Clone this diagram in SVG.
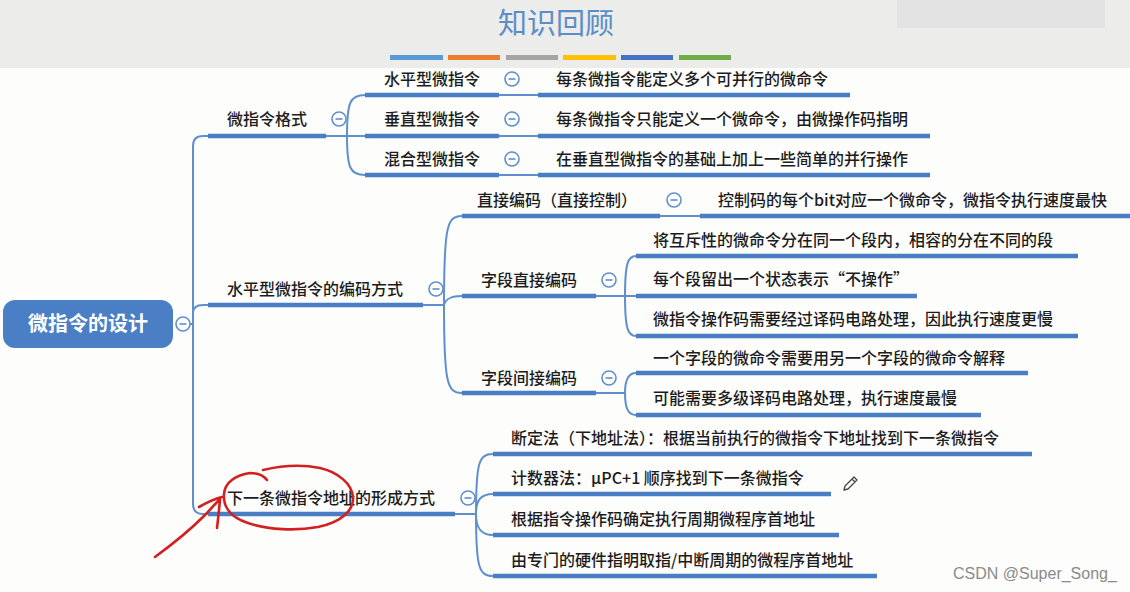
<svg xmlns="http://www.w3.org/2000/svg" width="1130" height="592" viewBox="0 0 1130 592">
<style>
.t{font-family:"Noto Sans CJK SC","Noto Sans",sans-serif;font-size:16px;font-weight:500;fill:#1c1c1c}
.m{text-anchor:middle}
.ul{stroke:#4a7ec4;stroke-width:4.5;fill:none;stroke-linecap:butt}
.cn{stroke:#5f8fce;stroke-width:2;fill:none}
.cb circle{fill:#fff;stroke:#5f8fce;stroke-width:1.6}
.cb line{stroke:#5f8fce;stroke-width:1.6}
.red{stroke:#d41f1f;stroke-width:2.6;fill:none;stroke-linecap:round;stroke-linejoin:round}
</style>
<defs>
<g id="minus" class="cb"><circle cx="0" cy="0" r="7"/><line x1="-3.5" y1="0" x2="3.5" y2="0"/></g>
</defs>
<rect x="0" y="0" width="1130" height="592" fill="#fdfdfc"/>
<g id="header">
<rect x="0" y="0" width="1130" height="68" fill="#ececeb"/>
<rect x="897" y="0" width="208" height="28" fill="#e3e3e3"/>
<text x="556" y="34" text-anchor="middle" style="font-family:'Noto Sans CJK SC',sans-serif;font-size:29px;fill:#5b8ec9">知识回顾</text>
<rect x="390" y="55" width="53" height="5" fill="#5b9bd5"/>
<rect x="448" y="55" width="52" height="5" fill="#ed7d31"/>
<rect x="506" y="55" width="52" height="5" fill="#a5a5a5"/>
<rect x="563" y="55" width="53" height="5" fill="#ffc000"/>
<rect x="621" y="55" width="52" height="5" fill="#4472c4"/>
<rect x="679" y="55" width="52" height="5" fill="#70ad47"/>
</g>
<g id="connectors">
<path class="cn" d="M190,324 H193 M208,136 H203 Q193,136 193,146 V504 Q193,514 203,514 H208 M193,313 Q193,305 203,305 H208"/>
<path class="cn" d="M326,136 H347 M347,136 C347,102 350,95 365,95 M347,136 H365 M347,136 C347,168 350,175 365,175"/>
<path class="cn" d="M499,95 H538 M499,136 H538 M499,175 H538"/>
<path class="cn" d="M423,305 H444 M444,305 C444,226 447,216 462,216 M444,305 C446,298 452,296 462,296 M444,305 C444,383 447,393 462,393"/>
<path class="cn" d="M660,216 H700"/>
<path class="cn" d="M596,296 H625 M625,296 C625,263 628,256 636,256 M625,296 H636 M625,296 C625,329 628,336 636,336"/>
<path class="cn" d="M596,393 H625 M625,393 C625,380 628,373 636,373 M625,393 C625,408 628,415 636,415"/>
<path class="cn" d="M455,514 H476 M476,514 C476,462 479,454 493,454 M476,514 C476,501 480,494 493,494 M476,514 C476,527 480,535 493,535 M476,514 C476,568 479,576 493,576"/>
</g>
<g id="root">
<rect x="3" y="300" width="170" height="48" rx="12" fill="#4a7fc6"/>
<text x="88" y="331" text-anchor="middle" style="font-family:'Noto Sans CJK SC',sans-serif;font-size:20px;font-weight:bold;fill:#fff">微指令的设计</text>
<use href="#minus" x="183" y="324"/>
</g>
<g id="n-format">
<line class="ul" x1="208" y1="136" x2="326" y2="136"/>
<text class="t m" x="267" y="125">微指令格式</text>
<use href="#minus" x="339" y="119"/>
</g>
<g id="n-horizontal">
<line class="ul" x1="365" y1="95" x2="499" y2="95"/>
<text class="t m" x="432" y="85">水平型微指令</text>
<use href="#minus" x="512" y="79"/>
</g>
<g id="n-vertical">
<line class="ul" x1="365" y1="136" x2="499" y2="136"/>
<text class="t m" x="432" y="125">垂直型微指令</text>
<use href="#minus" x="512" y="119"/>
</g>
<g id="n-mixed">
<line class="ul" x1="365" y1="175" x2="499" y2="175"/>
<text class="t m" x="432" y="165">混合型微指令</text>
<use href="#minus" x="512" y="159"/>
</g>
<g id="l-horizontal">
<line class="ul" x1="538" y1="95" x2="850" y2="95"/>
<text class="t" x="556" y="85">每条微指令能定义多个可并行的微命令</text>
</g>
<g id="l-vertical">
<line class="ul" x1="538" y1="136" x2="930" y2="136"/>
<text class="t" x="556" y="125">每条微指令只能定义一个微命令，由微操作码指明</text>
</g>
<g id="l-mixed">
<line class="ul" x1="538" y1="175" x2="930" y2="175"/>
<text class="t" x="556" y="165">在垂直型微指令的基础上加上一些简单的并行操作</text>
</g>
<g id="n-encoding">
<line class="ul" x1="208" y1="305" x2="423" y2="305"/>
<text class="t m" x="315" y="295">水平型微指令的编码方式</text>
<use href="#minus" x="436" y="289"/>
</g>
<g id="n-direct">
<line class="ul" x1="462" y1="216" x2="660" y2="216"/>
<text class="t m" x="557" y="206">直接编码（直接控制）</text>
<use href="#minus" x="674" y="200"/>
</g>
<g id="l-direct">
<line class="ul" x1="700" y1="216" x2="1130" y2="216"/>
<text class="t" x="718" y="206">控制码的每个bit对应一个微命令，微指令执行速度最快</text>
</g>
<g id="n-field-direct">
<line class="ul" x1="462" y1="296" x2="596" y2="296"/>
<text class="t m" x="529" y="286">字段直接编码</text>
<use href="#minus" x="609" y="280"/>
</g>
<g id="l-fd1">
<line class="ul" x1="636" y1="256" x2="1078" y2="256"/>
<text class="t" x="653" y="246">将互斥性的微命令分在同一个段内，相容的分在不同的段</text>
</g>
<g id="l-fd2">
<line class="ul" x1="636" y1="296" x2="917" y2="296"/>
<text class="t" x="653" y="285">每个段留出一个状态表示“不操作”</text>
</g>
<g id="l-fd3">
<line class="ul" x1="636" y1="336" x2="1078" y2="336"/>
<text class="t" x="653" y="325">微指令操作码需要经过译码电路处理，因此执行速度更慢</text>
</g>
<g id="n-field-indirect">
<line class="ul" x1="462" y1="393" x2="596" y2="393"/>
<text class="t m" x="529" y="384">字段间接编码</text>
<use href="#minus" x="609" y="378"/>
</g>
<g id="l-fi1">
<line class="ul" x1="636" y1="373" x2="1028" y2="373"/>
<text class="t" x="653" y="364">一个字段的微命令需要用另一个字段的微命令解释</text>
</g>
<g id="l-fi2">
<line class="ul" x1="636" y1="415" x2="981" y2="415"/>
<text class="t" x="653" y="404">可能需要多级译码电路处理，执行速度最慢</text>
</g>
<g id="n-next">
<line class="ul" x1="208" y1="514" x2="455" y2="514"/>
<text class="t m" x="331" y="504">下一条微指令地址的形成方式</text>
<use href="#minus" x="468" y="498"/>
</g>
<g id="l-next1">
<line class="ul" x1="493" y1="454" x2="1032" y2="454"/>
<text class="t" x="511" y="444">断定法（下地址法）：根据当前执行的微指令下地址找到下一条微指令</text>
</g>
<g id="l-next2">
<line class="ul" x1="493" y1="494" x2="831" y2="494"/>
<text class="t" x="511" y="484">计数器法：μPC+1 顺序找到下一条微指令</text>
</g>
<g id="l-next3">
<line class="ul" x1="493" y1="535" x2="839" y2="535"/>
<text class="t" x="511" y="525">根据指令操作码确定执行周期微程序首地址</text>
</g>
<g id="l-next4">
<line class="ul" x1="493" y1="576" x2="877" y2="576"/>
<text class="t" x="511" y="566">由专门的硬件指明取指/中断周期的微程序首地址</text>
</g>
<g id="pencil" fill="none" stroke="#444" stroke-width="1.3" stroke-linejoin="round">
<path d="M844,490 L845,486 L854,477 L857,480 L848,489 Z M852,479 L855,482"/>
</g>
<g id="annotation">
<path class="red" d="M263,470 C280,466 300,464 320,468 C338,472 352,484 353,497 C354,510 342,522 318,527 C296,531 268,530 248,523 C232,518 223,508 224,494 C225,482 236,475 250,473 C258,473 264,476 267,480"/>
<path class="red" d="M155,557 C170,546 188,532 204,516 C210,510 215,504 220,499 M199,507 C206,503 214,499 222,497 M220,500 C219,510 218,520 217,528"/>
</g>
<text x="953" y="579" style="font-family:'Liberation Sans',Arial,sans-serif;font-size:16px;fill:#8a8a8a">CSDN @Super_Song_</text>
</svg>
